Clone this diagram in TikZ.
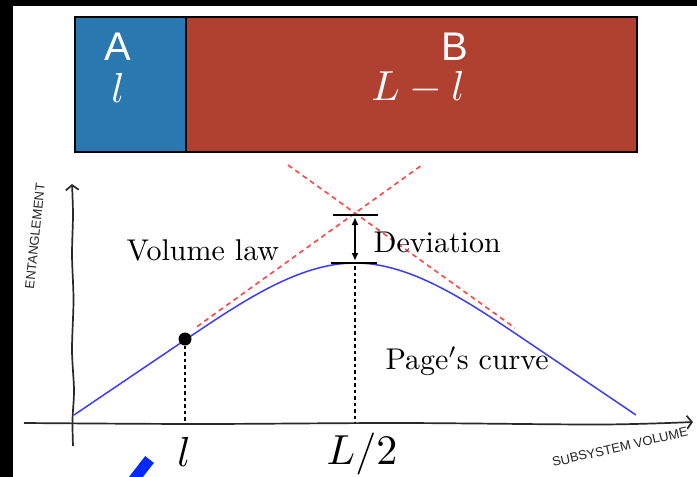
\documentclass[tikz,border=0pt]{standalone}
\usepackage{fontspec}
\newfontfamily\labelsans{Liberation Sans}
\usetikzlibrary{arrows.meta,positioning}
\definecolor{boxblue}{RGB}{42,120,176}
\definecolor{boxred}{RGB}{176,65,48}
\definecolor{curveblue}{RGB}{60,60,255}
\definecolor{tanred}{RGB}{255,70,70}
\definecolor{markblue}{RGB}{0,40,255}
\definecolor{axisgray}{RGB}{40,40,40}

\begin{document}
\begin{tikzpicture}[x=1pt,y=-1pt,>=Latex,
  txtlbl/.style={scale=3,inner sep=0pt,anchor=base west},
  mathlbl/.style={scale=4.2,inner sep=0pt},
  handlbl/.style={font=\labelsans\fontsize{13}{13}\selectfont,inner sep=0pt,text=black!85},
  partlbl/.style={font=\labelsans\fontsize{40}{40}\selectfont,text=white,inner sep=0pt},
  syspart/.style={draw=black,line width=2pt,inner sep=0pt,minimum height=135pt,anchor=north west},
  tandash/.style={tanred,line width=1.6pt,dash pattern=on 5pt off 4pt},
  dropline/.style={line width=2.6pt,dash pattern=on 3.5pt off 3pt}]

\useasboundingbox (0,0) rectangle (697,477);
\fill[white] (0,0) rectangle (697,477);
\fill[black] (0,0) rectangle (697,6);
\fill[black] (0,0) rectangle (13,477);

% the two parts of the system
\node[syspart,fill=boxred,minimum width=451pt] (partB) at (185,16) {};
\node[syspart,fill=boxblue,minimum width=111pt] (partA) at (74,16) {};
\node[partlbl] (labA) at (118,47) {A};
\node[partlbl] (labB) at (455,47) {B};
\node[mathlbl,text=white] (lenA) at (118,88) {$l$};
\node[mathlbl,text=white] (lenB) at (418,88) {$L-l$};

% axes
\coordinate (origin) at (73,423);
\draw[axisgray,line width=1.7pt,-{Straight Barb[length=5pt,width=13pt]}]
  plot[smooth] coordinates {(73,446) (72.5,420) (74,390) (72,350) (73.5,300) (72,255) (73,215) (72,184)};
\draw[axisgray,line width=1.7pt,-{Straight Barb[length=5pt,width=13pt]}]
  plot[smooth] coordinates {(24,423) (200,424) (400,423) (600,424.5) (693,422)};
\node[handlbl,rotate=84] (ylab) at (35,236) {ENTANGLEMENT};
\node[handlbl,rotate=13] (xlab) at (620,447) {SUBSYSTEM VOLUME};

% tangents
\coordinate (tl0) at (197,326.6);
\coordinate (tl1) at (422,165);
\coordinate (tr0) at (288,165);
\coordinate (tr1) at (515,328);
\draw[tandash] (tl0) -- (tl1);
\draw[tandash] (tr0) -- (tr1);

% Page curve
\coordinate (c0) at (74,415);
\coordinate (cl) at (185,340);
\coordinate (cpk) at (355,263);
\coordinate (cr) at (525,340);
\coordinate (c1) at (636,415);
\draw[curveblue,line width=1.5pt] (c0) -- (cl) .. controls (245,299.5) and (300,263) .. (cpk)
  .. controls (410,263) and (465,299.5) .. (cr) -- (c1);

% deviation marker
\coordinate (devTL) at (333,215);
\coordinate (devTR) at (378,215);
\coordinate (devBL) at (331,263);
\coordinate (devBR) at (377,263);
\draw[line width=2pt] (devTL) -- (devTR);
\draw[line width=2pt] (devBL) -- (devBR);
\coordinate (devT) at (355,217);
\coordinate (devB) at (355,261);
\draw[line width=1.6pt,{Latex[length=8pt,width=7pt]}-{Latex[length=8pt,width=7pt]}] (devT) -- (devB);

% drop lines
\node[circle,fill=black,inner sep=0pt,minimum size=13pt] (dotl) at (185,339) {};
\coordinate (axl) at (185,423);
\coordinate (axm) at (355,423);
\draw[dropline] (dotl.south) -- (axl);
\draw[dropline] (cpk) ++(0,3) coordinate (cpk2) -- (axm);

% labels
\node[txtlbl] (vol) at (126,260) {Volume law};
\node[txtlbl] (dev) at (373,252) {Deviation};
\node[txtlbl] (page) at (385,369) {Page$'$s curve};
\node[mathlbl,anchor=base] (ticl) at (184,466) {$l$};
\node[mathlbl,anchor=base] (ticm) at (362,464) {$L/2$};

% blue stroke at the bottom
\coordinate (mk0) at (149.5,459.5);
\coordinate (mk1) at (132,482);
\draw[markblue,line width=11pt] (mk0) -- (mk1);
\end{tikzpicture}
\end{document}
